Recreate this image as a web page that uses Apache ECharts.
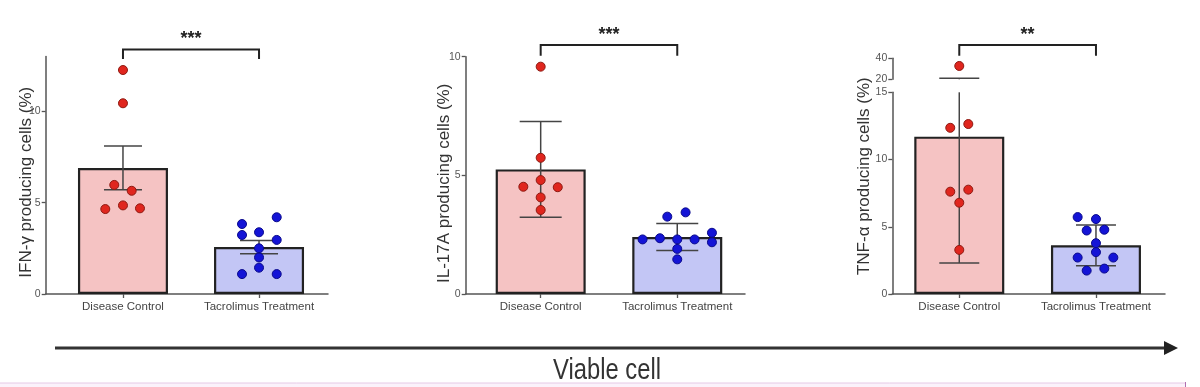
<!DOCTYPE html>
<html><head><meta charset="utf-8">
<script src="https://cdn.jsdelivr.net/npm/echarts@6/dist/echarts.min.js"></script>
<style>html,body{margin:0;padding:0;background:#fff}#c{width:1200px;height:387px}</style>
</head><body><div id="c"></div>
<script>
// ---------------- data ----------------
const categories = ['Disease Control', 'Tacrolimus Treatment'];
const yTitles = ['IFN-γ producing cells (%)', 'IL-17A producing cells (%)', 'TNF-α producing cells (%)'];
const significance = ['***', '***', '**'];
const bottomLabel = 'Viable cell';

// IFN-γ (mean ± SEM)
const ifnMeans = [6.9, 2.57];
const ifnErrors = [1.2, 0.36];
const ifnControl = [12.26, 10.44, 5.97, 5.65, 4.85, 4.65, 4.69];
const ifnControlJitter = [0, 0, -0.064, 0.064, 0, -0.13, 0.125];
const ifnTreated = [3.83, 4.2, 3.23, 3.38, 2.96, 2.5, 2.0, 1.44, 1.09, 1.09];
const ifnTreatedJitter = [-0.125, 0.13, -0.125, 0, 0.13, 0, 0, 0, -0.125, 0.13];
const ifnTicks = [0, 5, 10];

// IL-17A (mean ± SD)
const il17Means = [5.25, 2.4];
const il17Errors = [2.02, 0.57];
const il17Control = [9.58, 5.74, 4.8, 4.52, 4.5, 4.07, 3.54];
const il17ControlJitter = [0, 0, 0, -0.127, 0.125, 0, 0];
const il17Treated = [3.26, 3.44, 2.3, 2.35, 2.3, 2.3, 2.58, 2.18, 1.9, 1.46];
const il17TreatedJitter = [-0.073, 0.061, -0.254, -0.127, 0, 0.127, 0.254, 0.254, 0, 0];
const il17Ticks = [0, 5, 10];

// TNF-α (mean ± SD), broken axis
const tnfMeans = [11.7, 3.62];
const tnfErrors = [9.4, 1.52];
const tnfControl = [32.7, 12.36, 12.64, 7.61, 7.76, 6.79, 3.28];
const tnfControlJitter = [0, -0.066, 0.066, -0.066, 0.066, 0, 0];
const tnfTreated = [5.72, 5.57, 4.72, 4.78, 3.78, 3.11, 2.71, 2.71, 1.74, 1.89];
const tnfTreatedJitter = [-0.134, 0, -0.068, 0.061, 0, 0, -0.134, 0.127, -0.068, 0.061];
const tnfLowerTicks = [0, 5, 10, 15];
const tnfUpperTicks = [20, 40];

// ---------------- layout / style ----------------
const FONT = '"Liberation Sans", Arial, sans-serif';
const barColors = ['#f5c3c3', '#c3c6f5'];
const dotStyles = [
  { color: '#e0261e', borderColor: '#8e1a12' },
  { color: '#1414d6', borderColor: '#0a0a8c' }
];
const panels = [
  { title: yTitles[0], sig: significance[0], means: ifnMeans, errors: ifnErrors,
    groups: [[ifnControl, ifnControlJitter], [ifnTreated, ifnTreatedJitter]],
    left: 45.7, right: 328, xMin: -0.568, xMax: 1.507, nameGap: 11, nameShift: 14, bracketDy: -7, bracketLeg: 9.5, cap: 19,
    segments: [{ top: 56.5, bottom: 294, min: 0, max: 13, ticks: ifnTicks }] },
  { title: yTitles[1], sig: significance[1], means: il17Means, errors: il17Errors,
    groups: [[il17Control, il17ControlJitter], [il17Treated, il17TreatedJitter]],
    left: 465.7, right: 745, xMin: -0.549, xMax: 1.496, nameGap: 12.5, nameShift: 16, bracketDy: -11.7, bracketLeg: 10.7, cap: 21,
    segments: [{ top: 56.7, bottom: 294, min: 0, max: 10, ticks: il17Ticks }] },
  { title: yTitles[2], sig: significance[2], means: tnfMeans, errors: tnfErrors,
    groups: [[tnfControl, tnfControlJitter], [tnfTreated, tnfTreatedJitter]],
    left: 892.3, right: 1165, xMin: -0.49, xMax: 1.505, nameGap: 19, nameShift: 0, bracketDy: -13.3, bracketLeg: 10.7, cap: 20,
    segments: [{ top: 58.3, bottom: 79.3, min: 20, max: 40, ticks: tnfUpperTicks },
               { top: 92.3, bottom: 294, min: 0, max: 15, ticks: tnfLowerTicks }] }
];

const grid = [], xAxis = [], yAxis = [], series = [];
function nameStyle(p) {
  return { fontSize: 17, color: '#333', fontFamily: FONT, padding: [0, p.nameShift, 0, 0] };
}

function addGrid(p, top, bottom) {
  grid.push({ left: p.left, width: p.right - p.left, top: top, height: bottom - top, containLabel: false });
  return grid.length - 1;
}

panels.forEach((p) => {
  const nSeg = p.segments.length;
  p.segments.forEach((seg, si) => {
    const gi = addGrid(p, seg.top, seg.bottom);
    const isBottom = si === nSeg - 1;
    const isTop = si === 0;
    xAxis.push({
      gridIndex: gi, type: 'value', min: p.xMin, max: p.xMax, show: isBottom,
      axisLine: { show: true, onZero: false, lineStyle: { color: '#555', width: 1.5 } },
      axisTick: { show: true, length: 4, customValues: [0, 1], lineStyle: { color: '#555', width: 1.3 } },
      axisLabel: { show: true, customValues: [0, 1], margin: 7, color: '#444', fontSize: 11.5, fontFamily: FONT,
        formatter: (v) => categories[Math.round(v)] },
      splitLine: { show: false }
    });
    const xi = xAxis.length - 1;
    yAxis.push({
      gridIndex: gi, type: 'value', min: seg.min, max: seg.max,
      name: nSeg === 1 ? p.title : '', nameLocation: 'middle', nameGap: p.nameGap, nameMoveOverlap: false,
      nameTextStyle: nameStyle(p),
      axisLine: { show: true, onZero: false, lineStyle: { color: '#555', width: 1.5 } },
      axisTick: { show: true, length: 4, customValues: seg.ticks, lineStyle: { color: '#555', width: 1.3 } },
      axisLabel: { customValues: seg.ticks, margin: 5, color: '#555', fontSize: 10.5, fontFamily: FONT },
      splitLine: { show: false }
    });
    const yi = yAxis.length - 1;

    // bars (only where the mean falls in this segment)
    series.push({
      type: 'bar', xAxisIndex: xi, yAxisIndex: yi, barWidth: 90, z: 2, silent: true,
      data: p.means.map((m, i) => (m >= seg.min && m <= seg.max) ? {
        value: [i, m], itemStyle: { color: barColors[i], borderColor: '#222', borderWidth: 2.2 } } : null).filter(Boolean)
    });

    // error bars
    series.push({
      type: 'custom', xAxisIndex: xi, yAxisIndex: yi, z: 3, silent: true,
      data: p.means.map((m, i) => [i, m, p.errors[i]]),
      renderItem: (params, api) => {
        const x = api.value(0), m = api.value(1), e = api.value(2);
        const lo = m - e, hi = m + e;
        const loC = Math.max(lo, seg.min), hiC = Math.min(hi, seg.max);
        if (hiC < loC) return null;
        const a = api.coord([x, loC]), b = api.coord([x, hiC]);
        const st = { stroke: '#444', lineWidth: 1.5 };
        const ch = [{ type: 'line', shape: { x1: a[0], y1: a[1], x2: b[0], y2: b[1] }, style: st }];
        if (lo >= seg.min) ch.push({ type: 'line', shape: { x1: a[0] - p.cap, y1: a[1], x2: a[0] + p.cap, y2: a[1] }, style: st });
        if (hi <= seg.max) ch.push({ type: 'line', shape: { x1: b[0] - p.cap, y1: b[1], x2: b[0] + p.cap, y2: b[1] }, style: st });
        return { type: 'group', children: ch };
      }
    });

    // individual points
    p.groups.forEach((g, gi2) => {
      const pts = [];
      g[0].forEach((v, k) => { if (v >= seg.min && v <= seg.max) pts.push([gi2 + g[1][k], v]); });
      series.push({
        type: 'scatter', xAxisIndex: xi, yAxisIndex: yi, z: 4, silent: true,
        symbol: 'circle', symbolSize: 9,
        itemStyle: { color: dotStyles[gi2].color, borderColor: dotStyles[gi2].borderColor, borderWidth: 1, opacity: 1 },
        data: pts
      });
    });

    // significance bracket above the top segment
    if (isTop) {
      series.push({
        type: 'custom', xAxisIndex: xi, yAxisIndex: yi, z: 5, silent: true, clip: false,
        data: [[0, seg.max]],
        renderItem: (params, api) => {
          const x0 = api.coord([0, seg.max])[0], x1 = api.coord([1, seg.max])[0];
          const yb = params.coordSys.y + p.bracketDy;
          const st = { stroke: '#222', lineWidth: 2, fill: null };
          return { type: 'group', children: [
            { type: 'polyline', shape: { points: [[x0, yb + p.bracketLeg], [x0, yb], [x1, yb], [x1, yb + p.bracketLeg]] }, style: st },
            { type: 'text', style: { text: p.sig, x: (x0 + x1) / 2, y: yb - 1, align: 'center', verticalAlign: 'bottom',
              font: 'bold 18px ' + FONT, fill: '#222' } }
          ] };
        }
      });
    }
  });

  // axis title spanning the whole broken axis
  if (nSeg > 1) {
    const gi = addGrid(p, p.segments[0].top, p.segments[nSeg - 1].bottom);
    xAxis.push({ gridIndex: gi, type: 'value', min: 0, max: 1, show: false });
    yAxis.push({ gridIndex: gi, type: 'value', min: 0, max: 1, name: p.title, nameLocation: 'middle', nameGap: p.nameGap,
      nameMoveOverlap: false, nameTextStyle: nameStyle(p),
      axisLine: { show: false, onZero: false }, axisTick: { show: false }, axisLabel: { show: false }, splitLine: { show: false } });
  }
});

const chart = echarts.init(document.getElementById('c'), null, { renderer: 'canvas' });
chart.setOption({
  backgroundColor: '#ffffff',
  animation: false,
  grid, xAxis, yAxis, series,
  graphic: [
    { type: 'rect', shape: { x: 0, y: 383, width: 1186, height: 4 }, style: { fill: '#fbf2fb', stroke: null }, silent: true },
    { type: 'line', shape: { x1: 0, y1: 383, x2: 1186, y2: 383 }, style: { stroke: '#e6c8e6', lineWidth: 1 }, silent: true },
    { type: 'line', shape: { x1: 1185.5, y1: 382, x2: 1185.5, y2: 387 }, style: { stroke: '#b070b0', lineWidth: 1 }, silent: true },
    { type: 'line', shape: { x1: 55, y1: 348, x2: 1166, y2: 348 }, style: { stroke: '#333', lineWidth: 3 }, silent: true },
    { type: 'polygon', shape: { points: [[1164, 341], [1178, 348], [1164, 355]] }, style: { fill: '#222' }, silent: true },
    { type: 'text', x: 607, y: 371, scaleX: 0.82, style: { text: bottomLabel, align: 'center', verticalAlign: 'middle',
      font: '29px "Liberation Sans", Arial, sans-serif', fill: '#333' }, silent: true }
  ]
});
</script>
</body></html>
